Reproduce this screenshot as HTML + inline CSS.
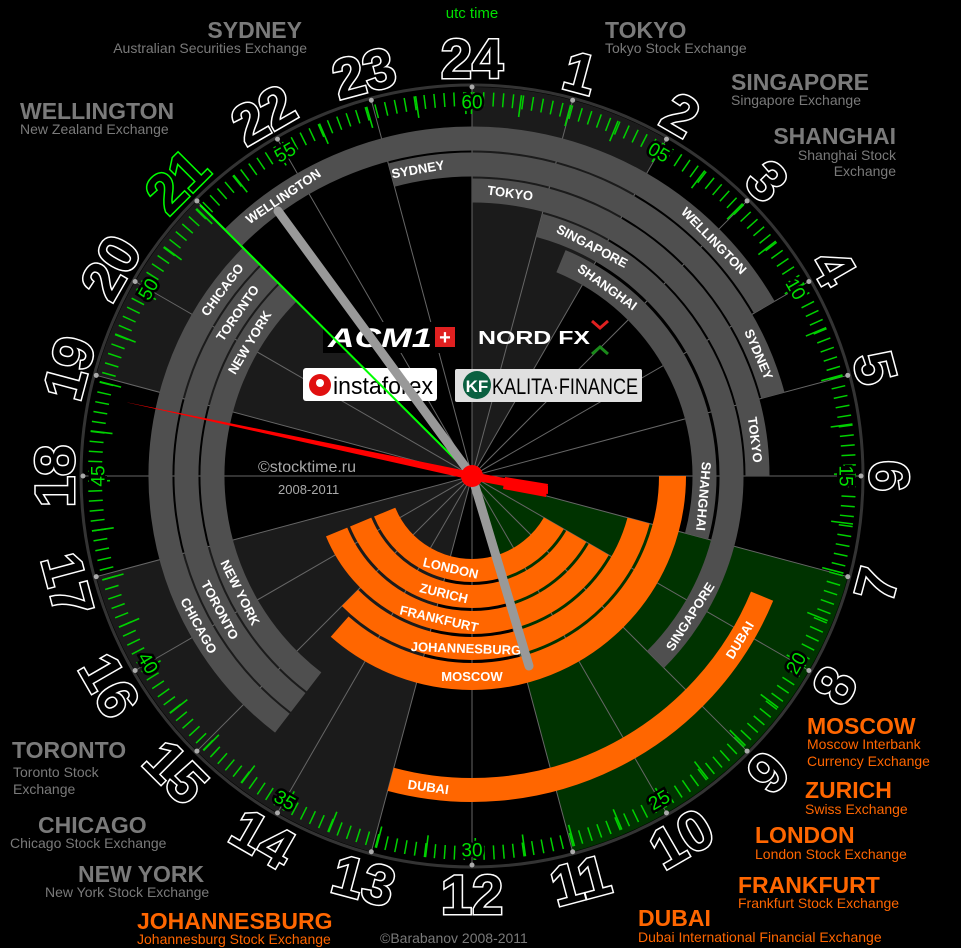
<!DOCTYPE html>
<html><head><meta charset="utf-8"><style>
html,body{margin:0;padding:0;background:#000;}
svg{display:block;font-family:"Liberation Sans",sans-serif;}
.t{font-weight:bold;font-size:23px;fill:#7a7a7a}
.s{font-size:14px;fill:#7a7a7a}
.ot{font-weight:bold;font-size:23px;fill:#ff6600}
.os{font-size:14px;fill:#ff6600}
.bl{font-weight:bold;font-size:13px;fill:#fff;text-anchor:middle}
.hn{font-weight:bold;font-size:56px;fill:#000;stroke:#fff;stroke-width:3;text-anchor:middle;paint-order:stroke}
.mn{font-size:19px;fill:#00e000;text-anchor:middle;stroke:#000;stroke-width:5;paint-order:stroke}
</style></head><body>
<svg width="961" height="948" viewBox="0 0 961 948" xmlns="http://www.w3.org/2000/svg">
<rect width="961" height="948" fill="#000"/>
<g fill="none" stroke-width="389">
<circle cx="472" cy="476" r="194.5" stroke="#1b1b1b" stroke-dasharray="101.84 3000" transform="rotate(-90 472 476)"/>
<circle cx="472" cy="476" r="194.5" stroke="#1b1b1b" stroke-dasharray="203.68 3000" transform="rotate(105 472 476)"/>
<circle cx="472" cy="476" r="194.5" stroke="#1b1b1b" stroke-dasharray="101.84 3000" transform="rotate(195 472 476)"/>
<circle cx="472" cy="476" r="194.5" stroke="#003300" stroke-dasharray="203.68 3000" transform="rotate(15 472 476)"/>
</g>
<g stroke="#666" stroke-width="1">
<line x1="472" y1="87" x2="472" y2="865"/>
<line x1="472" y1="87" x2="472" y2="865" transform="rotate(15 472 476)"/>
<line x1="472" y1="87" x2="472" y2="865" transform="rotate(30 472 476)"/>
<line x1="472" y1="87" x2="472" y2="865" transform="rotate(45 472 476)"/>
<line x1="472" y1="87" x2="472" y2="865" transform="rotate(60 472 476)"/>
<line x1="472" y1="87" x2="472" y2="865" transform="rotate(75 472 476)"/>
<line x1="472" y1="87" x2="472" y2="865" transform="rotate(90 472 476)"/>
<line x1="472" y1="87" x2="472" y2="865" transform="rotate(105 472 476)"/>
<line x1="472" y1="87" x2="472" y2="865" transform="rotate(120 472 476)"/>
<line x1="472" y1="87" x2="472" y2="865" transform="rotate(135 472 476)"/>
<line x1="472" y1="87" x2="472" y2="865" transform="rotate(150 472 476)"/>
<line x1="472" y1="87" x2="472" y2="865" transform="rotate(165 472 476)"/>
</g>
<circle cx="472" cy="476" r="391" fill="none" stroke="#333" stroke-width="3"/>
<circle cx="472" cy="476" r="377" fill="none" stroke="#00d000" stroke-width="14" stroke-dasharray="1.5 8.32"/>
<circle cx="472" cy="476" r="373" fill="none" stroke="#00d000" stroke-width="22" stroke-dasharray="1.6 47.1" transform="rotate(-90.2 472 476)"/>
<g fill="#aaa">
<circle cx="472" cy="87" r="2.5"/><circle cx="472" cy="87" r="2.5" transform="rotate(15 472 476)"/><circle cx="472" cy="87" r="2.5" transform="rotate(30 472 476)"/><circle cx="472" cy="87" r="2.5" transform="rotate(45 472 476)"/><circle cx="472" cy="87" r="2.5" transform="rotate(60 472 476)"/><circle cx="472" cy="87" r="2.5" transform="rotate(75 472 476)"/><circle cx="472" cy="87" r="2.5" transform="rotate(90 472 476)"/><circle cx="472" cy="87" r="2.5" transform="rotate(105 472 476)"/><circle cx="472" cy="87" r="2.5" transform="rotate(120 472 476)"/><circle cx="472" cy="87" r="2.5" transform="rotate(135 472 476)"/><circle cx="472" cy="87" r="2.5" transform="rotate(150 472 476)"/><circle cx="472" cy="87" r="2.5" transform="rotate(165 472 476)"/><circle cx="472" cy="87" r="2.5" transform="rotate(180 472 476)"/><circle cx="472" cy="87" r="2.5" transform="rotate(195 472 476)"/><circle cx="472" cy="87" r="2.5" transform="rotate(210 472 476)"/><circle cx="472" cy="87" r="2.5" transform="rotate(225 472 476)"/><circle cx="472" cy="87" r="2.5" transform="rotate(240 472 476)"/><circle cx="472" cy="87" r="2.5" transform="rotate(255 472 476)"/><circle cx="472" cy="87" r="2.5" transform="rotate(270 472 476)"/><circle cx="472" cy="87" r="2.5" transform="rotate(285 472 476)"/><circle cx="472" cy="87" r="2.5" transform="rotate(300 472 476)"/><circle cx="472" cy="87" r="2.5" transform="rotate(315 472 476)"/><circle cx="472" cy="87" r="2.5" transform="rotate(330 472 476)"/><circle cx="472" cy="87" r="2.5" transform="rotate(345 472 476)"/>
</g>
<g fill="none" stroke="#4f4f4f" stroke-width="24">
<circle cx="472" cy="476" r="337.5" stroke-dasharray="618.5 3000" transform="rotate(225 472 476)"/>
<circle cx="472" cy="476" r="311.5" stroke-dasharray="489.3 3000" transform="rotate(255 472 476)"/>
<circle cx="472" cy="476" r="285.5" stroke-dasharray="448.5 3000" transform="rotate(-90 472 476)"/>
<circle cx="472" cy="476" r="259.5" stroke-dasharray="543.5 3000" transform="rotate(-75 472 476)"/>
<circle cx="472" cy="476" r="232.5" stroke-dasharray="334.8 3000" transform="rotate(-67.5 472 476)"/>
<circle cx="472" cy="476" r="311.5" stroke-dasharray="530.1 3000" transform="rotate(127.5 472 476)"/>
<circle cx="472" cy="476" r="285.5" stroke-dasharray="485.8 3000" transform="rotate(127.5 472 476)"/>
<circle cx="472" cy="476" r="259.5" stroke-dasharray="441.6 3000" transform="rotate(127.5 472 476)"/>
</g>
<g fill="none" stroke="#ff6600">
<circle cx="472" cy="476" r="94.5" stroke-width="23" stroke-dasharray="210.3 3000" transform="rotate(30 472 476)"/>
<circle cx="472" cy="476" r="120.5" stroke-width="23" stroke-dasharray="268.1 3000" transform="rotate(30 472 476)"/>
<circle cx="472" cy="476" r="146.5" stroke-width="23" stroke-dasharray="326.0 3000" transform="rotate(30 472 476)"/>
<circle cx="472" cy="476" r="172.5" stroke-width="23" stroke-dasharray="361.3 3000" transform="rotate(15 472 476)"/>
<circle cx="472" cy="476" r="200.5" stroke-width="27" stroke-dasharray="459.3 3000" transform="rotate(0 472 476)"/>
<circle cx="472" cy="476" r="314" stroke-width="24" stroke-dasharray="452.1 3000" transform="rotate(22.5 472 476)"/>
</g>
<g class="bl">
<text x="472" y="138.5" dy="0.35em" transform="rotate(326 472 476)">WELLINGTON</text>
<text x="472" y="138.5" dy="0.35em" transform="rotate(45.8 472 476)">WELLINGTON</text>
<text x="472" y="164.5" dy="0.35em" transform="rotate(350 472 476)">SYDNEY</text>
<text x="472" y="164.5" dy="0.35em" transform="rotate(67 472 476)">SYDNEY</text>
<text x="472" y="190.5" dy="0.35em" transform="rotate(7.7 472 476)">TOKYO</text>
<text x="472" y="190.5" dy="0.35em" transform="rotate(82.7 472 476)">TOKYO</text>
<text x="472" y="216.5" dy="0.35em" transform="rotate(27.6 472 476)">SINGAPORE</text>
<text x="472" y="216.5" dy="0.35em" transform="rotate(122.8 472 476) rotate(180 472 216.5)">SINGAPORE</text>
<text x="472" y="243.5" dy="0.35em" transform="rotate(35.6 472 476)">SHANGHAI</text>
<text x="472" y="243.5" dy="0.35em" transform="rotate(95 472 476)">SHANGHAI</text>
<text x="472" y="164.5" dy="0.35em" transform="rotate(306.7 472 476)">CHICAGO</text>
<text x="472" y="190.5" dy="0.35em" transform="rotate(304.8 472 476)">TORONTO</text>
<text x="472" y="216.5" dy="0.35em" transform="rotate(301 472 476)">NEW YORK</text>
<text x="472" y="164.5" dy="0.35em" transform="rotate(241.3 472 476) rotate(180 472 164.5)">CHICAGO</text>
<text x="472" y="190.5" dy="0.35em" transform="rotate(242 472 476) rotate(180 472 190.5)">TORONTO</text>
<text x="472" y="216.5" dy="0.35em" transform="rotate(243.3 472 476) rotate(180 472 216.5)">NEW YORK</text>
<text x="472" y="381.5" dy="0.35em" transform="rotate(193 472 476) rotate(180 472 381.5)">LONDON</text>
<text x="472" y="355.5" dy="0.35em" transform="rotate(193.5 472 476) rotate(180 472 355.5)">ZURICH</text>
<text x="472" y="329.5" dy="0.35em" transform="rotate(193 472 476) rotate(180 472 329.5)">FRANKFURT</text>
<text x="472" y="303.5" dy="0.35em" transform="rotate(182 472 476) rotate(180 472 303.5)">JOHANNESBURG</text>
<text x="472" y="275.5" dy="0.35em" transform="rotate(180 472 476) rotate(180 472 275.5)">MOSCOW</text>
<text x="472" y="162" dy="0.35em" transform="rotate(188 472 476) rotate(180 472 162)">DUBAI</text>
<text x="472" y="162" dy="0.35em" transform="rotate(121.5 472 476) rotate(180 472 162)">DUBAI</text>
</g>
<g class="hn">
<text x="472" y="58" dy="0.36em">24</text>
<text x="472" y="58" dy="0.36em" transform="rotate(15 472 476)">1</text>
<text x="472" y="58" dy="0.36em" transform="rotate(30 472 476)">2</text>
<text x="472" y="58" dy="0.36em" transform="rotate(45 472 476)">3</text>
<text x="472" y="58" dy="0.36em" transform="rotate(60 472 476)">4</text>
<text x="472" y="58" dy="0.36em" transform="rotate(75 472 476)">5</text>
<text x="472" y="58" dy="0.36em" transform="rotate(90 472 476)">6</text>
<text x="472" y="58" dy="0.36em" transform="rotate(105 472 476) rotate(180 472 58)">7</text>
<text x="472" y="58" dy="0.36em" transform="rotate(120 472 476) rotate(180 472 58)">8</text>
<text x="472" y="58" dy="0.36em" transform="rotate(135 472 476) rotate(180 472 58)">9</text>
<text x="472" y="58" dy="0.36em" transform="rotate(150 472 476) rotate(180 472 58)">10</text>
<text x="472" y="58" dy="0.36em" transform="rotate(165 472 476) rotate(180 472 58)">11</text>
<text x="472" y="58" dy="0.36em" transform="rotate(180 472 476) rotate(180 472 58)">12</text>
<text x="472" y="58" dy="0.36em" transform="rotate(195 472 476) rotate(180 472 58)">13</text>
<text x="472" y="58" dy="0.36em" transform="rotate(210 472 476) rotate(180 472 58)">14</text>
<text x="472" y="58" dy="0.36em" transform="rotate(225 472 476) rotate(180 472 58)">15</text>
<text x="472" y="58" dy="0.36em" transform="rotate(240 472 476) rotate(180 472 58)">16</text>
<text x="472" y="58" dy="0.36em" transform="rotate(255 472 476) rotate(180 472 58)">17</text>
<text x="472" y="58" dy="0.36em" transform="rotate(270 472 476)">18</text>
<text x="472" y="58" dy="0.36em" transform="rotate(285 472 476)">19</text>
<text x="472" y="58" dy="0.36em" transform="rotate(300 472 476)">20</text>
<text x="472" y="58" dy="0.36em" transform="rotate(315 472 476)" style="stroke:#00ff00">21</text>
<text x="472" y="58" dy="0.36em" transform="rotate(330 472 476)">22</text>
<text x="472" y="58" dy="0.36em" transform="rotate(345 472 476)">23</text>
</g>
<g class="mn">
<text x="472" y="102" dy="0.35em">60</text>
<text x="472" y="102" dy="0.35em" transform="rotate(30 472 476)">05</text>
<text x="472" y="102" dy="0.35em" transform="rotate(60 472 476)">10</text>
<text x="472" y="102" dy="0.35em" transform="rotate(90 472 476)">15</text>
<text x="472" y="102" dy="0.35em" transform="rotate(120 472 476) rotate(180 472 102)">20</text>
<text x="472" y="102" dy="0.35em" transform="rotate(150 472 476) rotate(180 472 102)">25</text>
<text x="472" y="102" dy="0.35em" transform="rotate(180 472 476) rotate(180 472 102)">30</text>
<text x="472" y="102" dy="0.35em" transform="rotate(210 472 476) rotate(180 472 102)">35</text>
<text x="472" y="102" dy="0.35em" transform="rotate(240 472 476) rotate(180 472 102)">40</text>
<text x="472" y="102" dy="0.35em" transform="rotate(270 472 476)">45</text>
<text x="472" y="102" dy="0.35em" transform="rotate(300 472 476)">50</text>
<text x="472" y="102" dy="0.35em" transform="rotate(330 472 476)">55</text>
</g>
<rect x="323" y="322" width="135" height="31" fill="#000"/>
<text x="328" y="347" font-size="27" font-weight="bold" font-style="italic" fill="#fff" textLength="104" lengthAdjust="spacingAndGlyphs">ACM1</text>
<rect x="435" y="327" width="20" height="20" fill="#e02020"/>
<text x="445" y="344" font-size="20" font-weight="bold" fill="#fff" text-anchor="middle">+</text>
<text x="478" y="344" font-size="18" font-weight="bold" fill="#fff" textLength="112" lengthAdjust="spacingAndGlyphs">NORD FX</text>
<path d="M592 321 L600 328 L608 321" fill="none" stroke="#e02020" stroke-width="3"/>
<path d="M592 354 L600 347 L608 354" fill="none" stroke="#1a8a1a" stroke-width="3"/>
<rect x="303" y="368" width="134" height="33" rx="3" fill="#fff"/>
<circle cx="320" cy="385" r="11" fill="#e01010"/>
<circle cx="320" cy="383" r="4" fill="#fff"/>
<text x="333" y="394" font-size="24" fill="#000" textLength="100" lengthAdjust="spacingAndGlyphs">instaforex</text>
<rect x="455" y="369" width="187" height="33" rx="2" fill="#e0e0e0"/>
<circle cx="477" cy="385" r="14" fill="#0a6040"/>
<text x="477" y="392" font-size="17" font-weight="bold" fill="#fff" text-anchor="middle">KF</text>
<text x="492" y="394" font-size="22" fill="#000" textLength="146" lengthAdjust="spacingAndGlyphs">KALITA·FINANCE</text>
<text x="258" y="472" font-size="16" fill="#aaa">©stocktime.ru</text>
<text x="278" y="494" font-size="13" fill="#aaa">2008-2011</text>
<line x1="200" y1="205" x2="472" y2="476" stroke="#00ff00" stroke-width="2"/>
<line x1="472" y1="476" x2="278" y2="211" stroke="#999" stroke-width="9" stroke-linecap="round"/>
<line x1="472" y1="476" x2="529" y2="666" stroke="#999" stroke-width="9" stroke-linecap="round"/>
<polygon points="125,402 472,472 548,486 548,494 472,480" fill="#ff0000"/>
<polygon points="505,477 548,484 546,497 503,489" fill="#ff0000"/>
<circle cx="472" cy="476" r="11" fill="#ff0000"/>
<text x="472" y="18" font-size="15" fill="#00e000" text-anchor="middle">utc time</text>
<text x="302" y="38" class="t" text-anchor="end">SYDNEY</text>
<text x="307" y="53" class="s" text-anchor="end">Australian Securities Exchange</text>
<text x="605" y="38" class="t">TOKYO</text>
<text x="605" y="53" class="s">Tokyo Stock Exchange</text>
<text x="731" y="90" class="t">SINGAPORE</text>
<text x="731" y="105" class="s">Singapore Exchange</text>
<text x="896" y="144" class="t" text-anchor="end">SHANGHAI</text>
<text x="896" y="160" class="s" text-anchor="end">Shanghai Stock</text>
<text x="896" y="176" class="s" text-anchor="end">Exchange</text>
<text x="20" y="119" class="t">WELLINGTON</text>
<text x="20" y="134" class="s">New Zealand Exchange</text>
<text x="12" y="758" class="t">TORONTO</text>
<text x="13" y="777" class="s">Toronto Stock</text>
<text x="13" y="794" class="s">Exchange</text>
<text x="38" y="833" class="t">CHICAGO</text>
<text x="10" y="848" class="s">Chicago Stock Exchange</text>
<text x="78" y="882" class="t">NEW YORK</text>
<text x="45" y="897" class="s">New York Stock Exchange</text>
<text x="137" y="929" class="ot">JOHANNESBURG</text>
<text x="137" y="944" class="os">Johannesburg Stock Exchange</text>
<text x="807" y="734" class="ot">MOSCOW</text>
<text x="807" y="749" class="os">Moscow Interbank</text>
<text x="807" y="766" class="os">Currency Exchange</text>
<text x="805" y="798" class="ot">ZURICH</text>
<text x="805" y="814" class="os">Swiss Exchange</text>
<text x="755" y="843" class="ot">LONDON</text>
<text x="755" y="859" class="os">London Stock Exchange</text>
<text x="738" y="893" class="ot">FRANKFURT</text>
<text x="738" y="908" class="os">Frankfurt Stock Exchange</text>
<text x="638" y="926" class="ot">DUBAI</text>
<text x="638" y="942" class="os">Dubai International Financial Exchange</text>
<text x="380" y="943" font-size="14" fill="#7a7a7a">©Barabanov 2008-2011</text>
</svg>
</body></html>
